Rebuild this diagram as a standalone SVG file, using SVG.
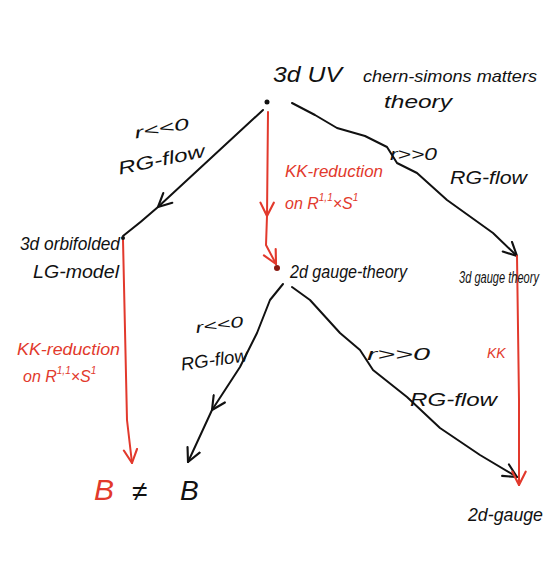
<svg xmlns="http://www.w3.org/2000/svg" width="548" height="569" viewBox="0 0 548 569">
<style>
text{font-family:"Liberation Sans",Arial,sans-serif;font-style:italic}
.k{fill:#111}
.r{fill:#e2392c}
.ln{fill:none;stroke-width:2;stroke-linecap:round;stroke-linejoin:round}
.lk{stroke:#111}
.lr{stroke:#e2392c}
.dot{fill:#111}
</style>
<defs>
<marker id="ak" viewBox="0 0 12 12" refX="11" refY="6" markerWidth="16" markerHeight="16" markerUnits="userSpaceOnUse" orient="auto">
<path d="M1,1 L11,6 L1,11" fill="none" stroke="#111" stroke-width="1.6" stroke-linecap="round" stroke-linejoin="round"/>
</marker>
<marker id="ar" viewBox="0 0 12 12" refX="11" refY="6" markerWidth="16" markerHeight="16" markerUnits="userSpaceOnUse" orient="auto">
<path d="M1,1 L11,6 L1,11" fill="none" stroke="#e2392c" stroke-width="1.6" stroke-linecap="round" stroke-linejoin="round"/>
</marker>
</defs>
<rect width="548" height="569" fill="#fff"/>

<g id="connectors">
<path class="ln lk" d="M263,110 L158,207" marker-end="url(#ak)"/>
<path class="ln lk" d="M158,207 Q140,223 123,236"/>
<path class="ln lr" d="M268,112 L267,216" marker-end="url(#ar)"/>
<path class="ln lr" d="M267,216 L266,245 L276,264" marker-end="url(#ar)"/>
<path class="ln lk" d="M292,103 L315,115 L337,128 L365,136 L387,147 L397,163 L417,173 L447,200 L493,233 L517,256" marker-end="url(#ak)"/>
<path class="ln lr" d="M123,240 L127,420 L132,463" marker-end="url(#ar)"/>
<path class="ln lk" d="M283,284 L270,300 L257,333 L240,367 L212,410" marker-end="url(#ak)"/>
<path class="ln lk" d="M212,410 L188,462" marker-end="url(#ak)"/>
<path class="ln lk" d="M292,287 L310,300 L340,333 L360,350 L373,370 L407,397 L440,428 L480,455 L517,477" marker-end="url(#ak)"/>
<path class="ln lr" d="M517,256 L519,400 L519,485" marker-end="url(#ar)"/>
<text class="k" x="134" y="134" font-size="16" textLength="55" lengthAdjust="spacingAndGlyphs" transform="rotate(-10 160 128)">r&lt;&lt;0</text>
<text class="k" x="117" y="166" font-size="18" textLength="88" lengthAdjust="spacingAndGlyphs" transform="rotate(-12 160 158)">RG-flow</text>
<text class="r" x="285" y="177" font-size="16" textLength="98" lengthAdjust="spacingAndGlyphs">KK-reduction</text>
<text class="r" x="285" y="209" font-size="16">on R<tspan font-size="10" dy="-8">1,1</tspan><tspan dy="8">×S</tspan><tspan font-size="10" dy="-8">1</tspan></text>
<text class="k" x="390" y="160" font-size="16" textLength="47" lengthAdjust="spacingAndGlyphs">r&gt;&gt;0</text>
<text class="k" x="450" y="184" font-size="18" textLength="77" lengthAdjust="spacingAndGlyphs">RG-flow</text>
<text class="r" x="17" y="355" font-size="16" textLength="103" lengthAdjust="spacingAndGlyphs">KK-reduction</text>
<text class="r" x="23" y="382" font-size="16">on R<tspan font-size="10" dy="-8">1,1</tspan><tspan dy="8">×S</tspan><tspan font-size="10" dy="-8">1</tspan></text>
<text class="k" x="195" y="330" font-size="15" textLength="48" lengthAdjust="spacingAndGlyphs" transform="rotate(-8 218 322)">r&lt;&lt;0</text>
<text class="k" x="180" y="366" font-size="18" textLength="67" lengthAdjust="spacingAndGlyphs" transform="rotate(-8 213 355)">RG-flow</text>
<text class="k" x="367" y="360" font-size="16" textLength="63" lengthAdjust="spacingAndGlyphs">r&gt;&gt;0</text>
<text class="k" x="410" y="406" font-size="18" textLength="87" lengthAdjust="spacingAndGlyphs">RG-flow</text>
<text class="r" x="487" y="358" font-size="14">KK</text>
</g>

<g id="uv">
<circle class="dot" cx="267" cy="102" r="2.5"/>
<text class="k" x="273" y="82" font-size="22" textLength="69" lengthAdjust="spacingAndGlyphs">3d UV</text>
<text class="k" x="363" y="82" font-size="17" textLength="174" lengthAdjust="spacingAndGlyphs">chern-simons matters</text>
<text class="k" x="384" y="108" font-size="19" textLength="68" lengthAdjust="spacingAndGlyphs">theory</text>
</g>

<g id="lg">
<circle class="dot" cx="123" cy="238" r="2"/>
<text class="k" x="20" y="250" font-size="18" textLength="100" lengthAdjust="spacingAndGlyphs">3d orbifolded</text>
<text class="k" x="33" y="278" font-size="18" textLength="86" lengthAdjust="spacingAndGlyphs">LG-model</text>
</g>

<g id="gauge2d">
<circle cx="277" cy="268" r="3" fill="#8a1a12"/>
<text class="k" x="290" y="278" font-size="18" textLength="117" lengthAdjust="spacingAndGlyphs">2d gauge-theory</text>
</g>

<g id="gauge3d">
<text class="k" x="459" y="283" font-size="16" textLength="80" lengthAdjust="spacingAndGlyphs">3d gauge theory</text>
</g>

<g id="bneq">
<text class="r" x="94" y="500" font-size="30">B</text>
<text class="k" x="132" y="501" font-size="28">≠</text>
<text class="k" x="180" y="500" font-size="28">B</text>
</g>

<g id="gauge2d-ir">
<text class="k" x="468" y="521" font-size="18" textLength="75" lengthAdjust="spacingAndGlyphs">2d-gauge</text>
</g>
</svg>
